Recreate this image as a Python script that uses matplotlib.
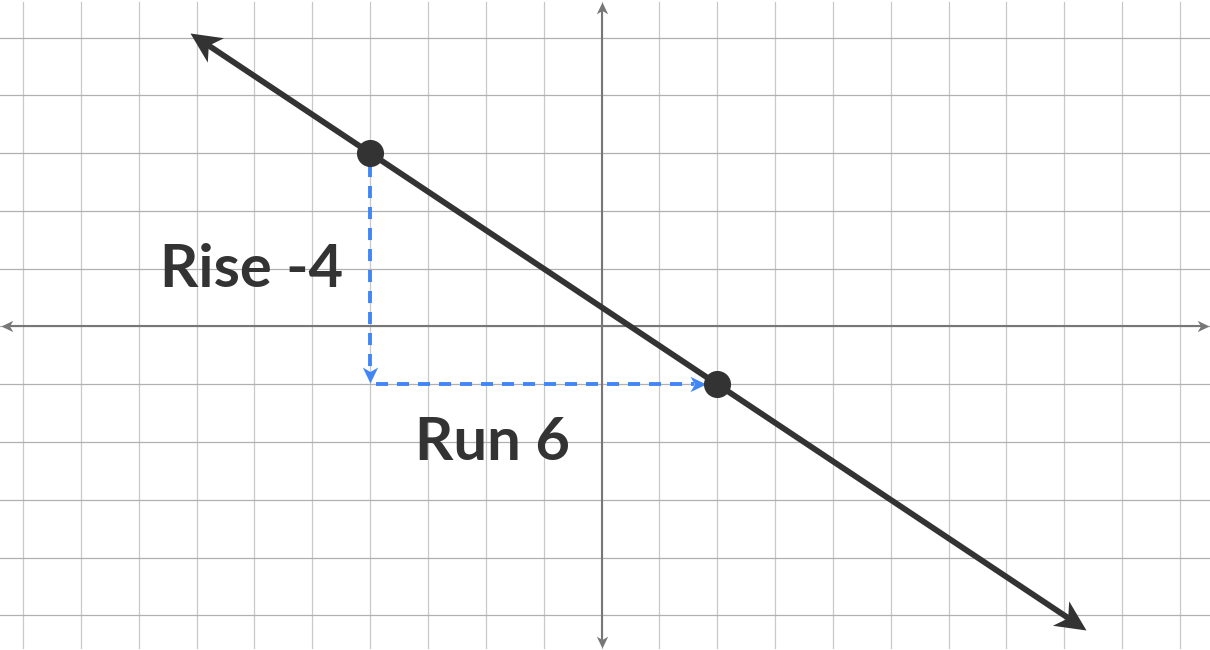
import matplotlib
matplotlib.use("Agg")
import matplotlib.pyplot as plt
from matplotlib.path import Path
from matplotlib.markers import MarkerStyle
from matplotlib.transforms import Affine2D
import numpy as np

plt.rcParams['font.family'] = ['Lato', 'DejaVu Sans']

# view window (data units)
x_lim = (-10.40, 10.52)
y_lim = (-5.60, 5.65)
grid_x = np.arange(-10, 11)
grid_y = np.arange(-5, 6)

# the two points and the line through them
pts_x = [-4, 2]
pts_y = [3, -1]
line_x = [-7.12, 8.38]   # ends of the drawn line (arrow tips)

# rise / run labels
rise_label = "Rise -4"
run_label = "Run 6"
rise_pos = (-7.63, 0.68)
run_pos = (-3.22, -2.31)

slope = (pts_y[1] - pts_y[0]) / (pts_x[1] - pts_x[0])
line_y = [pts_y[0] + slope * (x - pts_x[0]) for x in line_x]

fig = plt.figure(figsize=(12.1, 6.5), dpi=100)
ax = fig.add_axes([0, 0, 1, 1])
ax.set_xlim(*x_lim)
ax.set_ylim(*y_lim)
ax.axis('off')

# stealth arrowhead, tip at the origin pointing along +x
stealth = Path([(0, 0), (-1, 0.48), (-0.72, 0), (-1, -0.48), (0, 0)],
               [Path.MOVETO, Path.LINETO, Path.LINETO, Path.LINETO, Path.CLOSEPOLY])


def head(x, y, frm, size, color, z):
    # angle measured on screen, from point frm to the tip (x, y)
    p0 = ax.transData.transform(frm)
    p1 = ax.transData.transform((x, y))
    ang = np.degrees(np.arctan2(p1[1] - p0[1], p1[0] - p0[0]))
    m = MarkerStyle(stealth, transform=Affine2D().rotate_deg(ang))
    ax.plot([x], [y], marker=m, markersize=size, color=color, markeredgewidth=0, zorder=z)


# grid
for gx in grid_x:
    ax.plot([gx, gx], [y_lim[0] + 0.03, y_lim[1] - 0.03], color='#c8c8c8', lw=0.9, zorder=1)
for gy in grid_y:
    ax.plot([x_lim[0], x_lim[1]], [gy, gy], color='#b0b0b0', lw=0.9, zorder=1)

# axes with arrows on both ends
ax_col = '#777777'
x0, x1 = x_lim[0] + 0.02, x_lim[1] - 0.02
y0, y1 = y_lim[0] + 0.03, y_lim[1] - 0.03
ax.plot([x0 + 0.1, x1 - 0.1], [0, 0], color=ax_col, lw=1.5, zorder=2)
ax.plot([0, 0], [y0 + 0.1, y1 - 0.1], color=ax_col, lw=1.5, zorder=2)
head(x1, 0, (0, 0), 17, ax_col, 2)
head(x0, 0, (0, 0), 17, ax_col, 2)
head(0, y1, (0, 0), 17, ax_col, 2)
head(0, y0, (0, 0), 17, ax_col, 2)

# blue dashed rise / run
blue = '#4286f5'
ax.plot([pts_x[0], pts_x[0]], [pts_y[0] - 0.2, pts_y[1] + 0.15], color=blue, lw=2.8,
        dashes=(3.1, 2.3), zorder=3)
ax.plot([pts_x[0] + 0.1, pts_x[1] - 0.4], [pts_y[1], pts_y[1]], color=blue, lw=2.8,
        dashes=(3.1, 2.3), zorder=3)
head(pts_x[0], pts_y[1] + 0.02, (pts_x[0], pts_y[0]), 23, blue, 3)
head(pts_x[1] - 0.2, pts_y[1], (pts_x[0], pts_y[1]), 23, blue, 3)

# main line with arrowheads
dark = '#333333'
t = 0.25
lx = [line_x[0] + t * 0.83, line_x[1] - t * 0.83]
ly = [pts_y[0] + slope * (x - pts_x[0]) for x in lx]
ax.plot(lx, ly, color=dark, lw=4.2, solid_capstyle='butt', zorder=4)
head(line_x[1], line_y[1], (line_x[0], line_y[0]), 44, dark, 4)
head(line_x[0], line_y[0], (line_x[1], line_y[1]), 44, dark, 4)
ax.plot(pts_x, pts_y, 'o', color=dark, markersize=18.5, zorder=5)

ax.text(*rise_pos, rise_label, fontsize=43, fontweight='bold', color=dark,
        ha='left', va='baseline', zorder=6)
ax.text(*run_pos, run_label, fontsize=43, fontweight='bold', color=dark,
        ha='left', va='baseline', zorder=6)

fig.savefig('out.png', dpi=100)
